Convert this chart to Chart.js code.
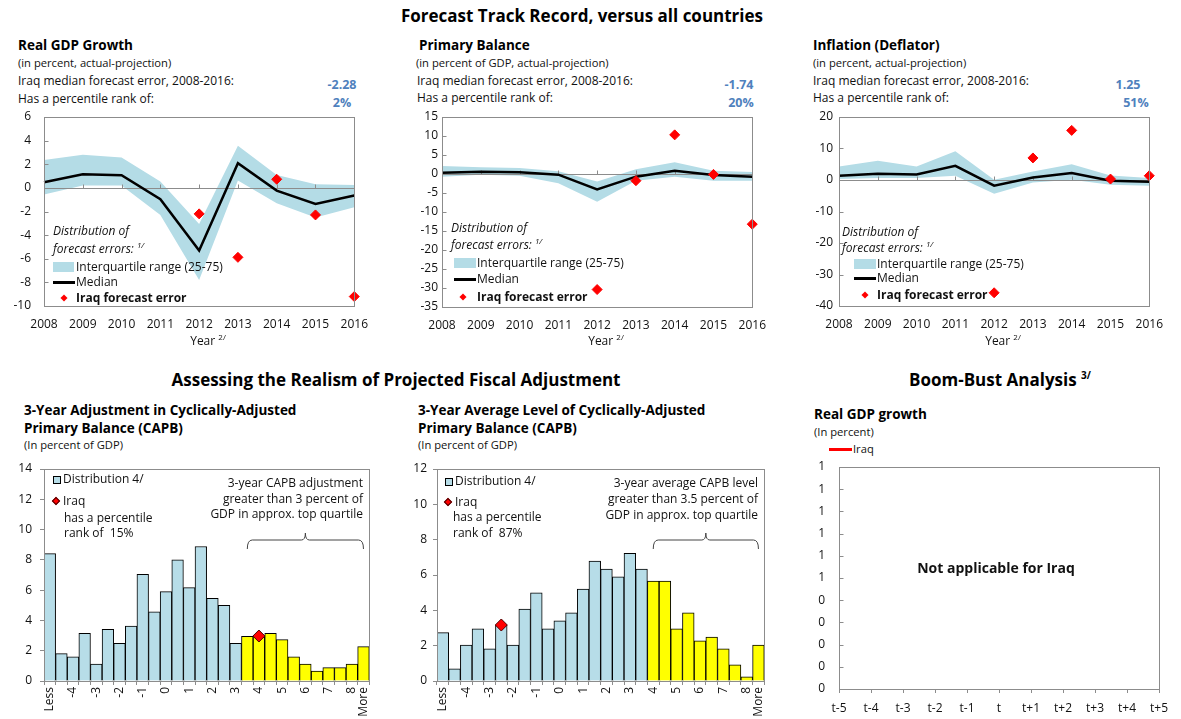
<!DOCTYPE html>
<html>
<head>
<meta charset="utf-8">
<script src="https://cdn.jsdelivr.net/npm/chart.js@4.4.1/dist/chart.umd.min.js"></script>
<style>
  body { margin: 0; background: #fff; font-family: 'Open Sans', sans-serif; color: #111; }
  #page { position: relative; width: 1181px; height: 719px; overflow: hidden; }
  canvas { position: absolute; }
  .t { position: absolute; white-space: nowrap; line-height: 1.2; transform: translateY(-50%); font-size: 12px; }
  .c { transform: translate(-50%, -50%); }
  .r { transform: translate(-100%, -50%); }
  .h1 { font-weight: bold; font-size: 17px; color: #000; }
  .h2 { font-weight: bold; font-size: 13.5px; color: #000; }
  .sub { font-size: 11.2px; }
  .num { font-weight: bold; color: #4f81bd; font-size: 12.5px; }
  .it { font-style: italic; }
  .b { font-weight: bold; }
  sup { font-size: 8px; vertical-align: 5px; line-height: 0; }
  .h1 sup { font-size: 10px; vertical-align: 7px; }
  .sw { position: absolute; }
  .dia { position: absolute; width: 5px; height: 5px; background: #ff0000; transform: translate(-50%, -50%) rotate(45deg); }
  .dia2 { position: absolute; width: 4px; height: 4px; background: #ff0000; border: 1px solid #400; transform: translate(-50%, -50%) rotate(45deg); }
</style>
</head>
<body>
<div id="page">
  <!-- section titles -->
  <div class="t h1 c" style="left:582px;top:16px">Forecast Track Record, versus all countries</div>
  <div class="t h1 c" style="left:396px;top:380px">Assessing the Realism of Projected Fiscal Adjustment</div>
  <div class="t h1 c" style="left:1000px;top:380px">Boom-Bust Analysis <sup>3/</sup></div>

  <!-- real GDP growth -->
  <div class="t h2" style="left:18px;top:45px">Real GDP Growth</div>
  <div class="t sub" style="left:18px;top:63px">(in percent, actual-projection)</div>
  <div class="t" style="left:18px;top:81px">Iraq median forecast error, 2008-2016:</div>
  <div class="t" style="left:18px;top:99px">Has a percentile rank of:</div>
  <div class="t num c" style="left:342px;top:84px">-2.28</div>
  <div class="t num c" style="left:342px;top:102px">2%</div>

  <!-- primary balance -->
  <div class="t h2" style="left:419px;top:45px">Primary Balance</div>
  <div class="t sub" style="left:416px;top:63px">(in percent of GDP, actual-projection)</div>
  <div class="t" style="left:417px;top:81px">Iraq median forecast error, 2008-2016:</div>
  <div class="t" style="left:417px;top:98px">Has a percentile rank of:</div>
  <div class="t num c" style="left:739px;top:84px">-1.74</div>
  <div class="t num c" style="left:741px;top:102px">20%</div>

  <!-- inflation -->
  <div class="t h2" style="left:813px;top:45px">Inflation (Deflator)</div>
  <div class="t sub" style="left:813px;top:63px">(in percent, actual-projection)</div>
  <div class="t" style="left:813px;top:81px">Iraq median forecast error, 2008-2016:</div>
  <div class="t" style="left:813px;top:98px">Has a percentile rank of:</div>
  <div class="t num c" style="left:1128px;top:84px">1.25</div>
  <div class="t num c" style="left:1136px;top:102px">51%</div>

  <canvas id="gdp" width="379" height="230" style="left:0;top:105px"></canvas>
  <canvas id="pb" width="379" height="230" style="left:398px;top:105px"></canvas>
  <canvas id="infl" width="379" height="230" style="left:795px;top:105px"></canvas>

  <div class="t c" style="left:208px;top:341px">Year <sup>2/</sup></div>
  <div class="t c" style="left:606px;top:341px">Year <sup>2/</sup></div>
  <div class="t c" style="left:1003px;top:341px">Year <sup>2/</sup></div>

  <!-- legends of the track record panels -->
  <div class="t it" style="left:53px;top:231px">Distribution of</div>
  <div class="t it" style="left:53px;top:249px">forecast errors: <sup>1/</sup></div>
  <div class="sw" style="left:53px;top:262px;width:21px;height:10px;background:#b4dce6"></div>
  <div class="t" style="left:76px;top:267px">Interquartile range (25-75)</div>
  <div class="sw" style="left:53px;top:281px;width:22px;height:2.5px;background:#000"></div>
  <div class="t" style="left:76px;top:282px">Median</div>
  <div class="dia" style="left:64px;top:298px"></div>
  <div class="t b" style="left:76px;top:298px">Iraq forecast error</div>

  <div class="t it" style="left:451px;top:228px">Distribution of</div>
  <div class="t it" style="left:451px;top:245px">forecast errors: <sup>1/</sup></div>
  <div class="sw" style="left:454px;top:258px;width:22px;height:10px;background:#b4dce6"></div>
  <div class="t" style="left:477px;top:263px">Interquartile range (25-75)</div>
  <div class="sw" style="left:454px;top:278px;width:22px;height:2.5px;background:#000"></div>
  <div class="t" style="left:477px;top:279px">Median</div>
  <div class="dia" style="left:463px;top:297px"></div>
  <div class="t b" style="left:477px;top:297px">Iraq forecast error</div>

  <div class="t it" style="left:842px;top:232px">Distribution of</div>
  <div class="t it" style="left:842px;top:248px">forecast errors: <sup>1/</sup></div>
  <div class="sw" style="left:854px;top:259px;width:22px;height:10px;background:#b4dce6"></div>
  <div class="t" style="left:877px;top:264px">Interquartile range (25-75)</div>
  <div class="sw" style="left:854px;top:277px;width:22px;height:2.5px;background:#000"></div>
  <div class="t" style="left:877px;top:278px">Median</div>
  <div class="dia" style="left:865px;top:295px"></div>
  <div class="t b" style="left:877px;top:295px">Iraq forecast error</div>

  <!-- CAPB adjustment -->
  <div class="t h2" style="left:24px;top:410px">3-Year Adjustment in Cyclically-Adjusted</div>
  <div class="t h2" style="left:24px;top:428px">Primary Balance (CAPB)</div>
  <div class="t sub" style="left:24px;top:445px">(In percent of GDP)</div>

  <!-- CAPB level -->
  <div class="t h2" style="left:418px;top:410px">3-Year Average Level of Cyclically-Adjusted</div>
  <div class="t h2" style="left:418px;top:428px">Primary Balance (CAPB)</div>
  <div class="t sub" style="left:418px;top:445px">(In percent of GDP)</div>

  <!-- boom bust -->
  <div class="t h2" style="left:814px;top:414px">Real GDP growth</div>
  <div class="t sub" style="left:814px;top:432px">(In percent)</div>
  <div class="sw" style="left:829px;top:448px;width:23px;height:2.5px;background:#ff0000"></div>
  <div class="t sub" style="left:853px;top:449px">Iraq</div>

  <canvas id="adj" width="380" height="266" style="left:0;top:453px"></canvas>
  <canvas id="lvl" width="380" height="266" style="left:395px;top:453px"></canvas>
  <canvas id="bb" width="381" height="264" style="left:795px;top:455px"></canvas>

  <div class="t b c" style="left:996px;top:568px;font-size:14px">Not applicable for Iraq</div>

  <div class="sw" style="left:53px;top:476px;width:6px;height:6px;background:#b7dde8;border:1px solid #000"></div>
  <div class="t" style="left:63px;top:479px">Distribution 4/</div>
  <div class="dia2" style="left:56px;top:501px"></div>
  <div class="t" style="left:63px;top:501px">Iraq</div>
  <div class="t" style="left:64px;top:518px">has a percentile</div>
  <div class="t" style="left:64px;top:533px">rank of&nbsp; 15%</div>
  <div class="t r" style="left:363px;top:483px">3-year CAPB adjustment</div>
  <div class="t r" style="left:363px;top:499px">greater than 3 percent of</div>
  <div class="t r" style="left:363px;top:514px">GDP in approx. top quartile</div>

  <div class="sw" style="left:445px;top:478px;width:6px;height:6px;background:#b7dde8;border:1px solid #000"></div>
  <div class="t" style="left:455px;top:481px">Distribution 4/</div>
  <div class="dia2" style="left:448px;top:502px"></div>
  <div class="t" style="left:455px;top:502px">Iraq</div>
  <div class="t" style="left:453px;top:517px">has a percentile</div>
  <div class="t" style="left:453px;top:533px">rank of&nbsp; 87%</div>
  <div class="t r" style="left:758px;top:483px">3-year average CAPB level</div>
  <div class="t r" style="left:758px;top:499px">greater than 3.5 percent of</div>
  <div class="t r" style="left:758px;top:515px">GDP in approx. top quartile</div>
</div>

<script>
// forecast track record, 2008-2016
const years = ['2008', '2009', '2010', '2011', '2012', '2013', '2014', '2015', '2016'];

const gdpMedian = [0.48, 1.16, 1.07, -0.96, -5.31, 2.09, -0.23, -1.36, -0.65];
const gdpP75 = [2.37, 2.8, 2.57, 0.54, -3.05, 3.56, 1.1, 0.31, 0.25];
const gdpP25 = [-0.56, 0.2, 0.2, -2.29, -7.8, 0.62, -1.3, -2.51, -1.64];
const gdpIraq = [null, null, null, null, -2.2, -5.88, 0.73, -2.29, -9.2];

const pbMedian = [0.35, 0.6, 0.44, -0.18, -4.05, -0.7, 0.88, -0.26, -0.7];
const pbP75 = [2.1, 1.76, 1.58, 0.7, -2.0, 1.23, 3.08, 0.88, 0.53];
const pbP25 = [-0.7, -0.18, -0.44, -2.46, -7.3, -1.76, -0.7, -1.76, -1.76];
const pbIraq = [null, null, null, null, -30.4, -1.76, 10.3, -0.1, -13.2];

const inflMedian = [1.35, 1.98, 1.77, 4.5, -1.8, 0.8, 2.2, -0.25, -0.56];
const inflP75 = [4.3, 6.1, 4.3, 9.1, 0.1, 2.7, 5.0, 1.45, 0.6];
const inflP25 = [0.3, 0.6, 0.6, 1.35, -4.4, -0.8, 0.1, -1.5, -1.8];
const inflIraq = [null, null, null, null, -35.8, 7.0, 15.75, 0.3, 1.35];

// fiscal adjustment histograms
const capbBins = ['Less', '', '-4', '', '-3', '', '-2', '', '-1', '', '0', '', '1', '', '2', '',
  '3', '', '4', '', '5', '', '6', '', '7', '', '8', 'More'];

const adjDist = [8.41, 1.81, 1.59, 3.15, 1.12, 3.41, 2.49, 3.63, 7.05, 4.56, 5.9, 8.0, 6.17, 8.88,
  5.46, 5.0, 2.49, 2.95, 2.95, 3.15, 2.73, 1.59, 1.12, 0.66, 0.88, 0.88, 1.12, 2.27];
const adjTopQuartileFrom = 17;
const adjIraqBin = 18;
const adjIraqValue = 2.97;

const lvlDist = [2.74, 0.69, 2.04, 2.95, 1.82, 3.17, 2.04, 4.07, 4.99, 2.95, 3.41, 3.86, 5.2, 6.79,
  6.34, 5.89, 7.22, 6.34, 5.65, 5.65, 2.95, 3.86, 2.27, 2.48, 1.82, 0.92, 0.23, 2.04];
const lvlTopQuartileFrom = 18;
const lvlIraqBin = 5;
const lvlIraqValue = 3.17;

// boom-bust
const bbLabels = ['t-5', 't-4', 't-3', 't-2', 't-1', 't', 't+1', 't+2', 't+3', 't+4', 't+5'];
const bbIraq = [];

const band = '#b4dce6';
const barBlue = '#b7dde8';
const frameGray = '#8c8c8c';

Chart.defaults.font.family = "'Open Sans', sans-serif";
Chart.defaults.font.size = 12;
Chart.defaults.color = '#111';
Chart.defaults.animation = false;
Chart.defaults.plugins.legend.display = false;
Chart.defaults.plugins.tooltip.enabled = false;

const frame = {
  id: 'frame',
  afterDatasetDraw(chart, args, opts) {
    if (opts.zeroAfter !== args.index) return;
    const { ctx, chartArea: a, scales: { x, y } } = chart;
    const y0 = Math.round(y.getPixelForValue(0)) + 0.5;
    ctx.save();
    ctx.strokeStyle = opts.color;
    ctx.lineWidth = 1;
    ctx.beginPath();
    ctx.moveTo(a.left, y0);
    ctx.lineTo(a.right, y0);
    x.ticks.forEach((t, i) => {
      const px = Math.round(x.getPixelForTick(i)) + 0.5;
      ctx.moveTo(px, y0);
      ctx.lineTo(px, y0 - 4);
    });
    ctx.stroke();
    ctx.restore();
  },
  afterDraw(chart, args, opts) {
    const { ctx, chartArea: a, scales } = chart;
    const l = Math.round(a.left) + 0.5, t = Math.round(a.top) + 0.5;
    ctx.save();
    ctx.strokeStyle = opts.color;
    ctx.lineWidth = 1;
    ctx.strokeRect(l, t, Math.round(a.right) - Math.round(a.left), Math.round(a.bottom) - Math.round(a.top));
    if (opts.yTicksIn) {
      ctx.beginPath();
      scales.y.ticks.forEach((tk, i) => {
        const py = Math.round(scales.y.getPixelForTick(i)) + 0.5;
        ctx.moveTo(l, py);
        ctx.lineTo(l + 4, py);
      });
      ctx.stroke();
    }
    if (opts.bracket) {
      const b = opts.bracket;
      const x1 = scales.x.getPixelForValue(b.from), x2 = scales.x.getPixelForValue(b.to);
      const yb = a.top + b.dy, xm = (x1 + x2) / 2;
      ctx.strokeStyle = '#444';
      ctx.beginPath();
      ctx.moveTo(x1, yb + 9);
      ctx.quadraticCurveTo(x1, yb, x1 + 5, yb);
      ctx.lineTo(xm - 4, yb);
      ctx.quadraticCurveTo(xm, yb, xm, yb - 7);
      ctx.quadraticCurveTo(xm, yb, xm + 4, yb);
      ctx.lineTo(x2 - 5, yb);
      ctx.quadraticCurveTo(x2, yb, x2, yb + 9);
      ctx.stroke();
    }
    ctx.restore();
  }
};

// yGap: distance between the plot's left edge and the right edge of the y labels.
// It goes into an undrawn tick length so the ticks padding stays small (that padding
// is also added on top of the plot area by Chart.js).
function trackChart(id, p75, p25, median, iraq, min, max, step, yGap, xHeight) {
  return new Chart(document.getElementById(id), {
    type: 'line',
    data: {
      labels: years,
      datasets: [
        { label: 'Iraq forecast error', data: iraq, showLine: false, pointStyle: 'rectRot', pointRadius: 5,
          pointBackgroundColor: '#ff0000', pointBorderColor: '#ff0000', pointBorderWidth: 1 },
        { label: 'Median', data: median, borderColor: '#000', borderWidth: 2.5, pointRadius: 0, tension: 0 },
        { label: '75th percentile', data: p75, borderColor: 'transparent', borderWidth: 1, pointRadius: 0,
          fill: '+1', backgroundColor: band },
        { label: '25th percentile', data: p25, borderColor: 'transparent', borderWidth: 1, pointRadius: 0 }
      ]
    },
    options: {
      responsive: false,
      layout: { padding: { top: 12, right: 16, left: 0, bottom: 0 } },
      scales: {
        x: {
          offset: false,
          grid: { display: false, drawTicks: false },
          border: { display: false },
          ticks: { padding: 11, maxRotation: 0, autoSkip: false, color: '#111' },
          afterFit(s) { s.height = xHeight; }
        },
        y: {
          min: min, max: max,
          grid: { display: false, drawTicks: true, tickLength: yGap - 2 },
          border: { display: false },
          ticks: { stepSize: step, padding: 2, color: '#111' },
          afterFit(s) { s.width = 44; }
        }
      },
      plugins: { frame: { color: frameGray, zeroAfter: 2, yTicksIn: true } }
    },
    plugins: [frame]
  });
}

trackChart('gdp', gdpP75, gdpP25, gdpMedian, gdpIraq, -10, 6, 2, 13, 29);
trackChart('pb', pbP75, pbP25, pbMedian, pbIraq, -35, 15, 5, 4, 28);
trackChart('infl', inflP75, inflP25, inflMedian, inflIraq, -40, 20, 10, 6, 29);

function histChart(id, dist, topFrom, iraqBin, iraqValue, yMax, yWidth, yPad, rightPad) {
  const colors = dist.map((v, i) => (i < topFrom ? barBlue : '#ffff00'));
  const iraq = dist.map((v, i) => (i === iraqBin ? iraqValue : null));
  return new Chart(document.getElementById(id), {
    type: 'bar',
    data: {
      labels: capbBins,
      datasets: [
        { type: 'line', label: 'Iraq', data: iraq, showLine: false, pointStyle: 'rectRot', pointRadius: 6,
          pointBackgroundColor: '#ff0000', pointBorderColor: '#500000', pointBorderWidth: 1 },
        { label: 'Distribution 4/', data: dist, backgroundColor: colors, borderColor: '#000', borderWidth: 1,
          barPercentage: 1, categoryPercentage: 1 }
      ]
    },
    options: {
      responsive: false,
      layout: { padding: { top: 16, right: rightPad, left: 0, bottom: 0 } },
      scales: {
        x: {
          grid: { display: true, drawOnChartArea: false, tickLength: 4, color: frameGray },
          border: { display: false },
          ticks: { autoSkip: false, minRotation: 90, maxRotation: 90, padding: 2, color: '#111' },
          afterFit(s) { s.height = 38; }
        },
        y: {
          min: 0, max: yMax,
          grid: { display: true, drawOnChartArea: false, tickLength: 4, color: frameGray },
          border: { display: false },
          ticks: { stepSize: 2, padding: yPad, color: '#111' },
          afterFit(s) { s.width = yWidth; }
        }
      },
      plugins: { frame: { color: frameGray, bracket: { from: topFrom, to: dist.length - 1, dy: 71 } } }
    },
    plugins: [frame]
  });
}

histChart('adj', adjDist, adjTopQuartileFrom, adjIraqBin, adjIraqValue, 14, 44, 8, 7);
histChart('lvl', lvlDist, lvlTopQuartileFrom, lvlIraqBin, lvlIraqValue, 12, 42, 6, 9);

new Chart(document.getElementById('bb'), {
  type: 'line',
  data: {
    labels: bbLabels,
    datasets: [{ label: 'Iraq', data: bbIraq, borderColor: '#ff0000', borderWidth: 2.5, pointRadius: 0 }]
  },
  options: {
    responsive: false,
    layout: { padding: { top: 12, right: 16, left: 0, bottom: 0 } },
    scales: {
      x: {
        offset: false,
        grid: { display: true, drawOnChartArea: false, tickLength: 4, color: frameGray },
        border: { display: false },
        ticks: { autoSkip: false, maxRotation: 0, padding: 8, color: '#111' },
        afterFit(s) { s.height = 30; }
      },
      y: {
        min: 0, max: 1,
        grid: { display: false, drawTicks: true, tickLength: 12 },
        border: { display: false },
        ticks: { stepSize: 0.1, padding: 2, color: '#111', callback: v => String(Math.round(v + 1e-9)) },
        afterFit(s) { s.width = 44; }
      }
    },
    plugins: { frame: { color: frameGray, yTicksIn: true } }
  },
  plugins: [frame]
});
</script>
</body>
</html>
